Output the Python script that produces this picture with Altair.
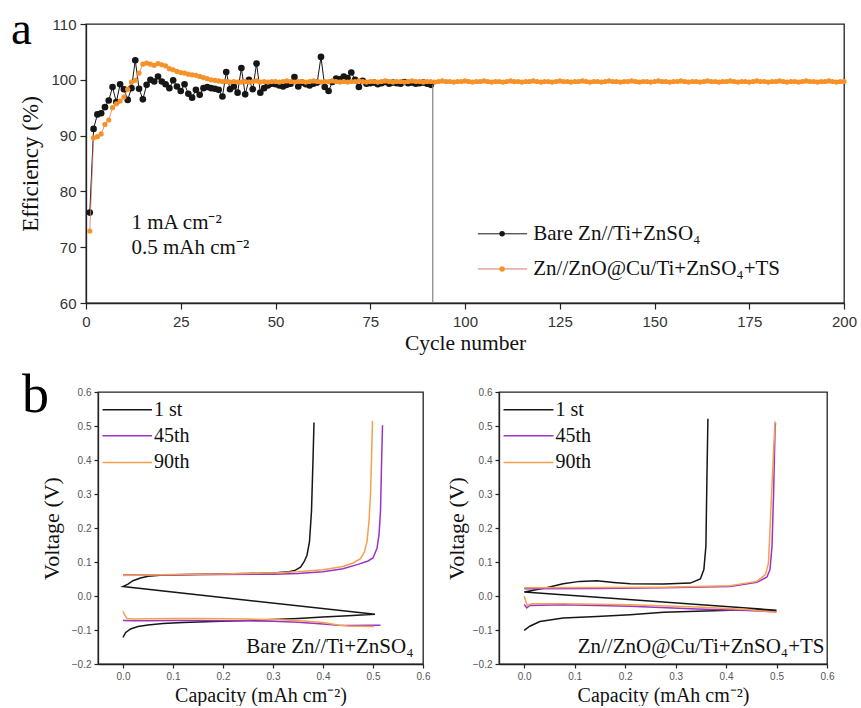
import altair as alt
import pandas as pd

# ---------------- (a) Coulombic efficiency vs cycle ----------------
bare_eff = [
    76.2, 91.2, 93.8, 94.0, 95.1, 96.3, 98.7, 96.0, 99.2, 98.3,
    96.4, 98.5, 103.5, 98.4, 96.5, 99.1, 100.0, 99.7, 100.6, 99.7,
    99.2, 98.5, 99.9, 98.8, 98.0, 99.2, 97.5, 96.8, 98.2, 97.3,
    98.5, 98.7, 98.5, 98.4, 98.2, 97.0, 101.4, 98.3, 98.8, 97.7,
    102.1, 97.4, 100.0, 98.3, 102.9, 97.7, 98.5, 99.0, 99.3, 99.2,
    99.0, 98.8, 99.1, 99.3, 100.5, 98.8, 99.5, 99.2, 99.0, 99.3,
    99.5, 104.1, 98.7, 98.0, 99.6, 100.2, 100.1, 100.6, 100.3, 101.3,
    100.0, 98.7, 99.8, 99.3, 99.4, 99.5, 99.2, 99.4, 99.6, 99.3,
    99.5, 99.4, 99.3, 99.6, 99.4, 99.5, 99.3, 99.4, 99.5, 99.3, 99.1,
]
ts_eff = [
    72.9, 89.6, 89.8, 90.3, 92.0, 92.8, 95.0, 95.7, 96.2, 96.9,
    98.3, 99.6, 99.9, 101.2, 102.8, 103.0, 102.8, 102.6, 102.9, 102.7,
    102.5, 102.0, 101.8, 101.5, 101.3, 101.2, 101.0, 100.9, 100.8, 100.6,
    100.4, 100.2, 100.0, 99.9, 99.8, 99.7, 99.7, 99.6, 99.7, 99.6,
    99.6, 99.7, 99.6, 99.7, 99.8, 99.6, 99.7, 99.6, 99.7, 99.7,
    99.6, 99.7, 99.8, 99.7, 99.6, 99.7, 99.7, 99.6, 99.7, 99.8,
    99.7, 99.6, 99.7, 99.7, 99.8, 99.7, 99.6, 99.7, 99.6, 99.7,
    99.7, 99.8, 99.7, 99.6, 99.7, 99.7, 99.6, 99.7, 99.8, 99.7,
    99.6, 99.7, 99.7, 99.6, 99.7, 99.8, 99.7, 99.7, 99.6, 99.7,
    99.7, 99.6, 99.7, 99.8, 99.7, 99.7, 99.6, 99.7, 99.7, 99.8,
    99.7, 99.6, 99.7, 99.7, 99.8, 99.7, 99.6, 99.7, 99.7, 99.6,
    99.7, 99.8, 99.7, 99.7, 99.6, 99.7, 99.7, 99.8, 99.7, 99.6,
    99.7, 99.7, 99.6, 99.7, 99.8, 99.7, 99.7, 99.6, 99.7, 99.7,
    99.8, 99.7, 99.6, 99.7, 99.7, 99.6, 99.7, 99.8, 99.7, 99.7,
    99.6, 99.7, 99.7, 99.8, 99.7, 99.6, 99.7, 99.7, 99.6, 99.7,
    99.8, 99.7, 99.7, 99.6, 99.7, 99.7, 99.8, 99.7, 99.6, 99.7,
    99.7, 99.6, 99.7, 99.8, 99.7, 99.7, 99.6, 99.7, 99.7, 99.8,
    99.7, 99.6, 99.7, 99.7, 99.6, 99.7, 99.8, 99.7, 99.7, 99.6,
    99.7, 99.7, 99.8, 99.7, 99.6, 99.7, 99.7, 99.6, 99.7, 99.8,
    99.7, 99.7, 99.6, 99.7, 99.7, 99.8, 99.7, 99.6, 99.7, 99.7,
]
# short circuit of the bare cell
fail_cycle = [91.5]
fail_from = [99.1]
fail_to = [60.0]

series_names = ["Bare Zn//Ti+ZnSO₄", "Zn//ZnO@Cu/Ti+ZnSO₄+TS"]
cond_lines = ["1 mA cm⁻²", "0.5 mAh cm⁻²"]

# ---------------- (b) voltage profiles ----------------
runs = ["1 st", "45th", "90th"]

# Bare Zn//Ti+ZnSO4
b1_dis_cap = [0.0, 0.005, 0.015, 0.03, 0.05, 0.08, 0.12, 0.18, 0.25, 0.30, 0.35, 0.40, 0.45, 0.504]
b1_dis_v = [-0.122, -0.108, -0.097, -0.090, -0.085, -0.081, -0.078, -0.075, -0.072, -0.069, -0.066, -0.062, -0.058, -0.054]
b1_chg_cap = [0.0, 0.01, 0.02, 0.035, 0.05, 0.08, 0.15, 0.25, 0.30, 0.33, 0.345, 0.355, 0.362, 0.368, 0.373, 0.377, 0.380, 0.382]
b1_chg_v = [0.028, 0.035, 0.045, 0.053, 0.058, 0.062, 0.064, 0.066, 0.068, 0.071, 0.076, 0.085, 0.100, 0.120, 0.160, 0.250, 0.400, 0.510]

b45_dis_cap = [0.0, 0.02, 0.05, 0.10, 0.15, 0.20, 0.25, 0.30, 0.35, 0.40, 0.43, 0.45, 0.50, 0.515]
b45_dis_v = [-0.072, -0.073, -0.073, -0.072, -0.072, -0.073, -0.073, -0.074, -0.077, -0.082, -0.086, -0.087, -0.086, -0.086]
b45_chg_cap = [0.0, 0.05, 0.10, 0.20, 0.30, 0.35, 0.40, 0.44, 0.47, 0.49, 0.50, 0.508, 0.512, 0.515, 0.517, 0.519]
b45_chg_v = [0.062, 0.062, 0.062, 0.063, 0.064, 0.066, 0.071, 0.080, 0.093, 0.103, 0.112, 0.140, 0.180, 0.250, 0.380, 0.502]

b90_dis_cap = [0.0, 0.003, 0.008, 0.02, 0.05, 0.10, 0.15, 0.20, 0.25, 0.30, 0.35, 0.40, 0.43, 0.45, 0.50, 0.502]
b90_dis_v = [-0.045, -0.055, -0.066, -0.068, -0.067, -0.066, -0.066, -0.067, -0.068, -0.069, -0.072, -0.078, -0.085, -0.088, -0.090, -0.090]
b90_chg_cap = [0.0, 0.05, 0.10, 0.20, 0.30, 0.35, 0.40, 0.44, 0.46, 0.475, 0.483, 0.488, 0.492, 0.495, 0.497, 0.499]
b90_chg_v = [0.060, 0.062, 0.063, 0.065, 0.068, 0.071, 0.077, 0.087, 0.097, 0.110, 0.130, 0.160, 0.220, 0.300, 0.400, 0.515]

# Zn//ZnO@Cu/Ti+ZnSO4+TS
t1_dis_cap = [0.0, 0.011, 0.031, 0.077, 0.144, 0.21, 0.276, 0.342, 0.408, 0.50]
t1_dis_v = [-0.101, -0.089, -0.075, -0.065, -0.060, -0.055, -0.048, -0.045, -0.042, -0.042]
t1_chg_cap = [0.0, 0.044, 0.077, 0.11, 0.144, 0.177, 0.21, 0.276, 0.329, 0.349, 0.356, 0.360, 0.362, 0.364]
t1_chg_v = [0.012, 0.024, 0.036, 0.043, 0.045, 0.040, 0.036, 0.035, 0.038, 0.050, 0.078, 0.146, 0.343, 0.521]

t45_dis_cap = [0.0, 0.005, 0.011, 0.077, 0.21, 0.342, 0.441, 0.50]
t45_dis_v = [-0.025, -0.035, -0.028, -0.026, -0.030, -0.038, -0.043, -0.046]
t45_chg_cap = [0.0, 0.144, 0.276, 0.408, 0.461, 0.481, 0.487, 0.491, 0.494, 0.497, 0.498]
t45_chg_v = [0.021, 0.022, 0.024, 0.028, 0.040, 0.056, 0.078, 0.146, 0.293, 0.490, 0.509]

t90_dis_cap = [0.0, 0.006, 0.015, 0.077, 0.21, 0.342, 0.441, 0.50]
t90_dis_v = [-0.001, -0.028, -0.023, -0.023, -0.026, -0.032, -0.040, -0.048]
t90_chg_cap = [0.0, 0.144, 0.276, 0.408, 0.461, 0.478, 0.484, 0.487, 0.493, 0.497]
t90_chg_v = [0.024, 0.025, 0.026, 0.030, 0.043, 0.063, 0.097, 0.195, 0.390, 0.514]

# ---------------- styling ----------------
SERIF = "Liberation Serif"
SANS = "Liberation Sans"
BLACK = "#161616"
ORANGE = "#f5922a"
ORANGE_LINE = "#d8766a"
PURPLE = "#9a34c9"
PROFILE_ORANGE = "#f5a04e"
run_colors = [BLACK, PURPLE, PROFILE_ORANGE]

# ---------------- panel (a) ----------------
bare_df = pd.DataFrame({"cycle": list(range(1, len(bare_eff) + 1)), "eff": bare_eff})
ts_df = pd.DataFrame({"cycle": list(range(1, len(ts_eff) + 1)), "eff": ts_eff})
fail_df = pd.DataFrame({"cycle": fail_cycle, "eff": fail_from, "eff2": fail_to})

xa = alt.X("cycle:Q", scale=alt.Scale(domain=[0, 200], nice=False, zero=False),
           axis=alt.Axis(values=[0, 25, 50, 75, 100, 125, 150, 175, 200], title="Cycle number",
                         labelFontSize=15, titleFontSize=21.5, tickSize=6, labelPadding=5,
                         titlePadding=3, labelFlush=False))
ya = alt.Y("eff:Q", scale=alt.Scale(domain=[60, 110], nice=False, zero=False),
           axis=alt.Axis(values=[60, 70, 80, 90, 100, 110], title="Efficiency (%)",
                         labelFontSize=15, titleFontSize=23, tickSize=6, labelPadding=4,
                         titlePadding=8, labelFlush=False))

bare_line = alt.Chart(bare_df).mark_line(color=BLACK, strokeWidth=1).encode(x=xa, y=ya)
bare_pts = alt.Chart(bare_df).mark_circle(color=BLACK, size=44, opacity=1).encode(x=xa, y=ya)
fail_rule = alt.Chart(fail_df).mark_rule(color="#808080", strokeWidth=1.2).encode(x=xa, y=ya, y2="eff2:Q")
ts_line = alt.Chart(ts_df).mark_line(color=ORANGE_LINE, strokeWidth=0.8).encode(x=xa, y=ya)
ts_pts = alt.Chart(ts_df).mark_circle(color=ORANGE, size=27, opacity=1).encode(x=xa, y=ya)

# legend drawn in data coordinates
leg_a = pd.DataFrame({"cycle": [103.4], "cycle2": [116.4], "mid": [109.8], "tx": [118.0],
                      "eff": [72.4], "label": [series_names[0]]})
leg_b = pd.DataFrame({"cycle": [103.4], "cycle2": [116.4], "mid": [109.8], "tx": [118.0],
                      "eff": [66.1], "label": [series_names[1]]})


def legend_row(df, line_color, dot_color, dot_size):
    rule = alt.Chart(df).mark_rule(color=line_color, strokeWidth=1).encode(x=xa, x2="cycle2:Q", y=ya)
    dot = alt.Chart(df).mark_circle(color=dot_color, size=dot_size, opacity=1).encode(
        x=alt.X("mid:Q", scale=alt.Scale(domain=[0, 200], nice=False)), y=ya)
    txt = alt.Chart(df).mark_text(align="left", baseline="middle", font=SERIF, fontSize=21,
                                  color="#111").encode(
        x=alt.X("tx:Q", scale=alt.Scale(domain=[0, 200], nice=False)), y=ya, text="label:N")
    return [rule, dot, txt]


cond_df = pd.DataFrame({"cycle": [12.0, 12.0], "eff": [73.3, 68.8], "label": cond_lines})
cond_txt = alt.Chart(cond_df).mark_text(align="left", baseline="alphabetic", font=SERIF,
                                        fontSize=21, color="#111").encode(x=xa, y=ya, text="label:N")

tag_a = alt.Chart(pd.DataFrame({"t": ["a"]})).mark_text(
    align="left", baseline="alphabetic", font=SERIF, fontSize=47, color="#000").encode(
    x=alt.value(-75), y=alt.value(20), text="t:N")

panel_a = alt.layer(
    bare_line, bare_pts, fail_rule, ts_line, ts_pts,
    *legend_row(leg_a, BLACK, BLACK, 30),
    *legend_row(leg_b, ORANGE_LINE, ORANGE, 30),
    cond_txt, tag_a,
).properties(width=758, height=279)


# ---------------- panel (b) ----------------
def profile_frame(profiles):
    rows = []
    for run, segments, joined in profiles:
        idx = 0
        for s, (caps, vs) in enumerate(segments):
            seg = run if joined else f"{run}-{s}"
            for c, v in zip(caps, vs):
                rows.append({"cap": c, "v": v, "run": run, "seg": seg, "idx": idx})
                idx += 1
    return pd.DataFrame(rows)


def profile_panel(df, note, note_x, width, title_pad, tag=None):
    xb = alt.X("cap:Q", scale=alt.Scale(domain=[-0.05, 0.6], nice=False, zero=False),
               axis=alt.Axis(values=[0.0, 0.1, 0.2, 0.3, 0.4, 0.5, 0.6], format=".1f",
                             title="Capacity (mAh cm⁻²)", labelFontSize=10, titleFontSize=20,
                             tickSize=4, labelPadding=3, titlePadding=4, labelFlush=False,
                             labelColor="#555"))
    yb = alt.Y("v:Q", scale=alt.Scale(domain=[-0.2, 0.6], nice=False, zero=False),
               axis=alt.Axis(values=[-0.2, -0.1, 0.0, 0.1, 0.2, 0.3, 0.4, 0.5, 0.6], format=".1f",
                             title="Voltage (V)", labelFontSize=10, titleFontSize=22,
                             tickSize=4, labelPadding=3, titlePadding=title_pad, labelFlush=False,
                             labelColor="#555"))
    color = alt.Color("run:N", scale=alt.Scale(domain=runs, range=run_colors), legend=None)

    lines = alt.Chart(df).mark_line(strokeWidth=1.5).encode(
        x=xb, y=yb, color=color, detail="seg:N", order="idx:Q")

    leg_df = pd.DataFrame({"cap": [-0.041] * 3, "cap2": [0.058] * 3, "tx": [0.062] * 3,
                           "v": [0.548, 0.471, 0.393], "run": runs})
    leg_rules = alt.Chart(leg_df).mark_rule(strokeWidth=1.5).encode(
        x=xb, x2="cap2:Q", y=yb, color=color)
    leg_txt = alt.Chart(leg_df).mark_text(align="left", baseline="middle", font=SERIF,
                                          fontSize=20, color="#111").encode(
        x=alt.X("tx:Q", scale=alt.Scale(domain=[-0.05, 0.6], nice=False)), y=yb, text="run:N")

    note_df = pd.DataFrame({"cap": [note_x], "v": [-0.167], "label": [note]})
    note_txt = alt.Chart(note_df).mark_text(align="right", baseline="alphabetic", font=SERIF,
                                            fontSize=21, color="#111").encode(
        x=xb, y=yb, text="label:N")

    layers = [lines, leg_rules, leg_txt, note_txt]
    if tag:
        layers.append(alt.Chart(pd.DataFrame({"t": [tag]})).mark_text(
            align="left", baseline="alphabetic", font=SERIF, fontSize=54, color="#000").encode(
            x=alt.value(-76), y=alt.value(20), text="t:N"))
    return alt.layer(*layers).properties(width=width, height=272)


bare_prof = profile_frame([
    ("1 st", [(b1_dis_cap + b1_chg_cap, b1_dis_v + b1_chg_v)], True),
    ("45th", [(b45_dis_cap, b45_dis_v), (b45_chg_cap, b45_chg_v)], False),
    ("90th", [(b90_dis_cap, b90_dis_v), (b90_chg_cap, b90_chg_v)], False),
])
ts_prof = profile_frame([
    ("1 st", [(t1_dis_cap + t1_chg_cap, t1_dis_v + t1_chg_v)], True),
    ("45th", [(t45_dis_cap, t45_dis_v), (t45_chg_cap, t45_chg_v)], False),
    ("90th", [(t90_dis_cap, t90_dis_v), (t90_chg_cap, t90_chg_v)], False),
])

panel_b1 = profile_panel(bare_prof, series_names[0], 0.581, 325, 8, tag="b")
panel_b2 = profile_panel(ts_prof, series_names[1], 0.595, 328, 4)


def spacer(w):
    return alt.Chart(pd.DataFrame({"z": [0]})).mark_point(opacity=0).encode(
        x=alt.value(0), y=alt.value(0)).properties(
        width=w, height=272, view=alt.ViewBackground(stroke="transparent"))


row_b = alt.hconcat(spacer(12), panel_b1, spacer(76), panel_b2, spacing=0, bounds="flush")

chart = alt.vconcat(panel_a, row_b, spacing=89, bounds="flush").properties(
    padding={"left": 10, "top": 5, "right": 0, "bottom": 0}
).configure_view(
    stroke="#222", strokeWidth=1.3
).configure_axis(
    domainColor="#222", domainWidth=1.3, tickColor="#222", tickWidth=1.2,
    labelColor="#333", labelFont=SANS, titleFont=SERIF, titleFontWeight="normal",
    titleColor="#111", grid=False
)

chart.save("out.html", embed_options={"renderer": "svg", "actions": False})
